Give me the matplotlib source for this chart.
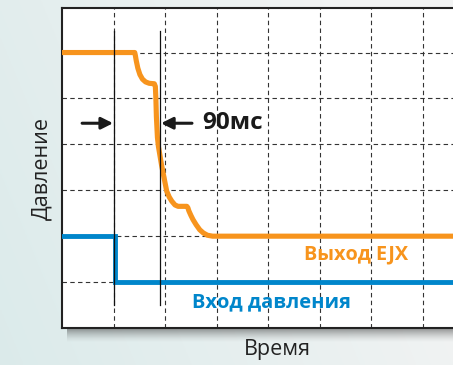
import matplotlib
matplotlib.use('Agg')
import matplotlib.pyplot as plt
import numpy as np

plt.rcParams['font.family'] = ['Open Sans', 'DejaVu Sans']

# step response (x: grid units of time, y: grid units of pressure)
out_x = [0.0, 1.41, 1.42, 1.44, 1.47, 1.51, 1.56, 1.62, 1.69, 1.79,
         1.81, 1.82, 1.83, 1.85, 1.87, 1.90, 1.93, 1.96, 2.00, 2.03, 2.08, 2.13, 2.19, 2.25,
         2.42, 2.44, 2.46, 2.50, 2.54, 2.60, 2.67, 2.74, 2.82, 2.92, 7.6]
out_y = [6.0, 6.0, 5.95, 5.82, 5.66, 5.52, 5.42, 5.36, 5.33, 5.32,
         5.26, 5.0, 4.6, 4.15, 3.95, 3.75, 3.55, 3.38, 3.15, 2.98, 2.85, 2.76, 2.68, 2.65,
         2.65, 2.62, 2.55, 2.45, 2.36, 2.25, 2.14, 2.07, 2.02, 2.0, 2.0]
in_x = [0.0, 1.03, 1.03, 7.6]
in_y = [2.0, 2.0, 1.0, 1.0]
marker_x = [1.01, 1.90]
marker_span = (0.51, 6.46)
arrow_y = 4.46
delay_label = '90мс'
out_label = 'Выход EJX'
in_label = 'Вход давления'

ORANGE = '#f7941d'
BLUE = '#0086cb'

fig = plt.figure(figsize=(4.53, 3.65), dpi=100)

# background gradient
bg = fig.add_axes([0, 0, 1, 1], zorder=-10)
gx = np.linspace(0, 1, 200)
gy = np.linspace(0, 1, 200)
GX, GY = np.meshgrid(gx, gy)
t = np.clip(1 - GX * 0.9 - (1 - GY) * 0.3, 0, 1)
c0 = np.array([0.95, 0.955, 0.955])
c1 = np.array([0.86, 0.92, 0.92])
img = c0[None, None, :] * (1 - t[..., None]) + c1[None, None, :] * t[..., None]
bg.imshow(img, aspect='auto', extent=[0, 1, 0, 1], origin='upper')
bg.set_axis_off()

# shadow under the plot box
for i in range(14):
    fig.patches.append(plt.Rectangle((62 / 453 + 0.01, (37 - i - 1) / 365), 0.9, 1 / 365,
                                     transform=fig.transFigure, color='#333333',
                                     alpha=0.5 * (1 - i / 14) ** 1.5, lw=0, zorder=-5))

ax = fig.add_axes([62 / 453, 37 / 365, 391 / 453, 320 / 365])
ax.set_facecolor('white')
ax.set_xlim(0, 7.58)
ax.set_ylim(0, 6.97)

ax.set_xticks(range(1, 8))
ax.set_yticks(range(1, 7))
ax.tick_params(length=0, labelbottom=False, labelleft=False)
ax.grid(True, color='#333333', lw=0.8, ls=(0, (4, 3)))
for s in ['left', 'top', 'bottom']:
    ax.spines[s].set_color('#222222')
    ax.spines[s].set_linewidth(1.5)
ax.spines['right'].set_visible(False)

ax.plot(in_x, in_y, color=BLUE, lw=3.5, solid_joinstyle='miter', zorder=3)
ax.plot(out_x, out_y, color=ORANGE, lw=3.7, solid_joinstyle='round', zorder=4)

for mx in marker_x:
    ax.plot([mx, mx], marker_span, color='#111111', lw=0.9, zorder=5)

ax.annotate('', xy=(marker_x[0] - 0.02, arrow_y), xytext=(0.39, arrow_y),
            arrowprops=dict(arrowstyle='-|>,head_length=0.7,head_width=0.35',
                            color='#1a1a1a', lw=2.2, shrinkA=0, shrinkB=0), zorder=6)
ax.annotate('', xy=(marker_x[1] + 0.02, arrow_y), xytext=(2.52, arrow_y),
            arrowprops=dict(arrowstyle='-|>,head_length=0.7,head_width=0.35',
                            color='#1a1a1a', lw=2.2, shrinkA=0, shrinkB=0), zorder=6)
ax.text(2.72, arrow_y, delay_label, fontsize=17.5, fontweight='bold', color='#1a1a1a',
        va='center', ha='left', zorder=6)

ax.text(5.70, 1.60, out_label, fontsize=14.3, fontweight='bold', color=ORANGE,
        va='center', ha='center', zorder=6)
ax.text(4.07, 0.56, in_label, fontsize=14.5, fontweight='bold', color=BLUE,
        va='center', ha='center', zorder=6)

fig.text(42 / 453, 1 - 168 / 365, 'Давление', rotation=90, fontsize=15.5, color='#222222',
         va='center', ha='center')
fig.text(277 / 453, 1 - 350 / 365, 'Время', fontsize=15.5, color='#222222',
         va='center', ha='center')

fig.savefig('out.png', dpi=100)
